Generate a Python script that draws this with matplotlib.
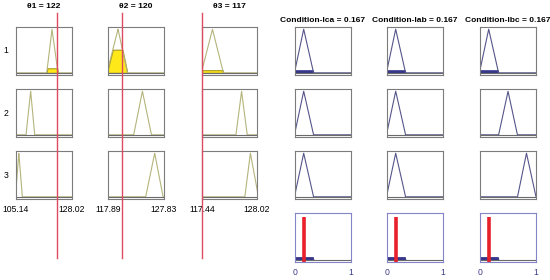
import numpy as np
import matplotlib
matplotlib.use('Agg')
import matplotlib.pyplot as plt
from matplotlib.lines import Line2D

plt.rcParams['font.family'] = ['Liberation Sans', 'DejaVu Sans']

# input variables: titles, ranges, crisp values
in_names = ['\u03b81', '\u03b82', '\u03b83']
in_values = [122, 120.45, 117]
in_titles = ['122', '120', '117']
in_ranges = [(105.14, 128.02), (117.89, 127.83), (117.44, 128.02)]
# triangular MFs used by each rule (rows) for each input (cols)
in_mfs = [
    [(117.7, 119.85, 122.25), (117.7, 119.67, 121.33), (117.31, 119.45, 121.55)],
    [(109.24, 111.13, 112.76), (122.45, 124.0, 125.59), (123.97, 125.05, 126.12)],
    [(104.9, 106.3, 107.7), (124.58, 126.18, 127.65), (125.68, 126.75, 128.3)],
]

# outputs
out_names = ['Condition-lca', 'Condition-lab', 'Condition-lbc']
out_values = [0.167, 0.167, 0.167]
out_mfs = [
    [(-0.01, 0.155, 0.33), (-0.01, 0.155, 0.33), (-0.01, 0.155, 0.33)],
    [(-0.01, 0.155, 0.33), (-0.01, 0.155, 0.33), (0.333, 0.5, 0.667)],
    [(-0.01, 0.155, 0.33), (-0.01, 0.155, 0.33), (0.67, 0.83, 1.0)],
]
rule_labels = ['1', '2', '3']

W, H = 550, 280
in_cols = [(16, 72), (108, 164), (202, 257)]
out_cols = [(295, 351), (387, 443), (480, 536)]
rows = [(27, 75), (89, 137), (151, 199), (213, 262)]

in_line = '#b4b47c'
out_line = '#55558a'
box_grey = '#7c7c7c'


def tri(x, p):
    a, b, c = p
    return np.interp(x, [a, b, c], [0, 1, 0], left=0, right=0)


fig = plt.figure(figsize=(W / 100, H / 100), dpi=100)


def make_ax(col, row, edge=box_grey):
    x0, x1 = col
    y0, y1 = row
    ax = fig.add_axes([x0 / W, 1 - y1 / H, (x1 - x0) / W, (y1 - y0) / H])
    ax.set_yticks([])
    ax.set_xticks([])
    ax.set_ylim(-0.05, 1.05)
    for s in ax.spines.values():
        s.set_color(edge)
        s.set_linewidth(0.8)
    return ax


# firing strength of each rule
strength = []
for r in range(3):
    mus = []
    for c in range(3):
        lo, hi = in_ranges[c]
        v = min(max(in_values[c], lo), hi)
        mus.append(float(tri(v, in_mfs[r][c])))
    strength.append(min(mus))

# input panels
top_axes = []
for c in range(3):
    lo, hi = in_ranges[c]
    v = min(max(in_values[c], lo), hi)
    for r in range(3):
        ax = make_ax(in_cols[c], rows[r])
        ax.set_xlim(lo, hi)
        p = in_mfs[r][c]
        xs = np.linspace(min(p[0], lo), max(p[2], hi), 800)
        mu = float(tri(v, p))
        if mu > 0:
            ax.fill_between(xs, 0, np.minimum(tri(xs, p), mu), where=tri(xs, p) > 0,
                            facecolor='#ffe81a', edgecolor='#a89a20', linewidth=0.8)
        ax.plot(xs, tri(xs, p), color=in_line, lw=0.8)
        ax.axhline(0, color='#6a6a6a', lw=0.8)
        if r == 0:
            ax.text(0.5, 1 + 20 / 48, f'{in_names[c]} = {in_titles[c]}', transform=ax.transAxes,
                    ha='center', va='center', fontsize=6.1, fontweight='bold')
            top_axes.append((ax, v))
        if r == 2:
            ax.set_xticks([lo, hi])
            ax.set_xticklabels([f'{lo:.2f}', f'{hi:.2f}'])
            ax.tick_params(axis='x', length=0, labelsize=6.2, pad=4)
        if c == 0:
            ax.text(-10 / 56, 0.5, rule_labels[r], transform=ax.transAxes,
                    ha='center', va='center', fontsize=6.2)

# output panels
for c in range(3):
    xs = np.linspace(0, 1, 800)
    agg = np.zeros_like(xs)
    for r in range(3):
        ax = make_ax(out_cols[c], rows[r])
        ax.set_xlim(0, 1)
        p = out_mfs[r][c]
        if strength[r] > 0:
            clipped = np.minimum(tri(xs, p), max(strength[r], 0.06))
            agg = np.maximum(agg, clipped)
            ax.fill_between(xs, 0, clipped, where=tri(xs, p) > 0,
                            facecolor='#36368a', edgecolor='#36368a', linewidth=0.6)
        ax.plot(xs, tri(xs, p), color=out_line, lw=0.8)
        ax.axhline(0, color='#6a6a6a', lw=0.8)
        if r == 0:
            ax.text(0.5, 1 + 6 / 48, f'{out_names[c]} = {out_values[c]:.3f}', transform=ax.transAxes,
                    ha='center', va='center', fontsize=6.0, fontweight='bold')
    ax = make_ax(out_cols[c], rows[3], edge='#8484c8')
    ax.set_xlim(0, 1)
    ax.fill_between(xs, 0, agg, where=agg > 0, facecolor='#36368a', edgecolor='#36368a', linewidth=0.6)
    ax.axhline(0, color='#6a6a6a', lw=0.8)
    ax.plot([out_values[c], out_values[c]], [-0.05, 0.96], color='#e8202c', lw=2.6,
            solid_capstyle='butt', clip_on=False)
    ax.set_xticks([0, 1])
    ax.set_xticklabels(['0', '1'])
    ax.tick_params(axis='x', length=0, labelsize=6.2, pad=4, colors='#3a3a8a')

# red input lines spanning the rule rows
for ax, v in top_axes:
    xf = fig.transFigure.inverted().transform(ax.transData.transform((v, 0)))[0]
    fig.add_artist(Line2D([xf, xf], [1 - 258 / H, 1 - 13 / H], transform=fig.transFigure,
                          color='#e04a60', lw=1.0))

fig.savefig('out.png', dpi=100)
